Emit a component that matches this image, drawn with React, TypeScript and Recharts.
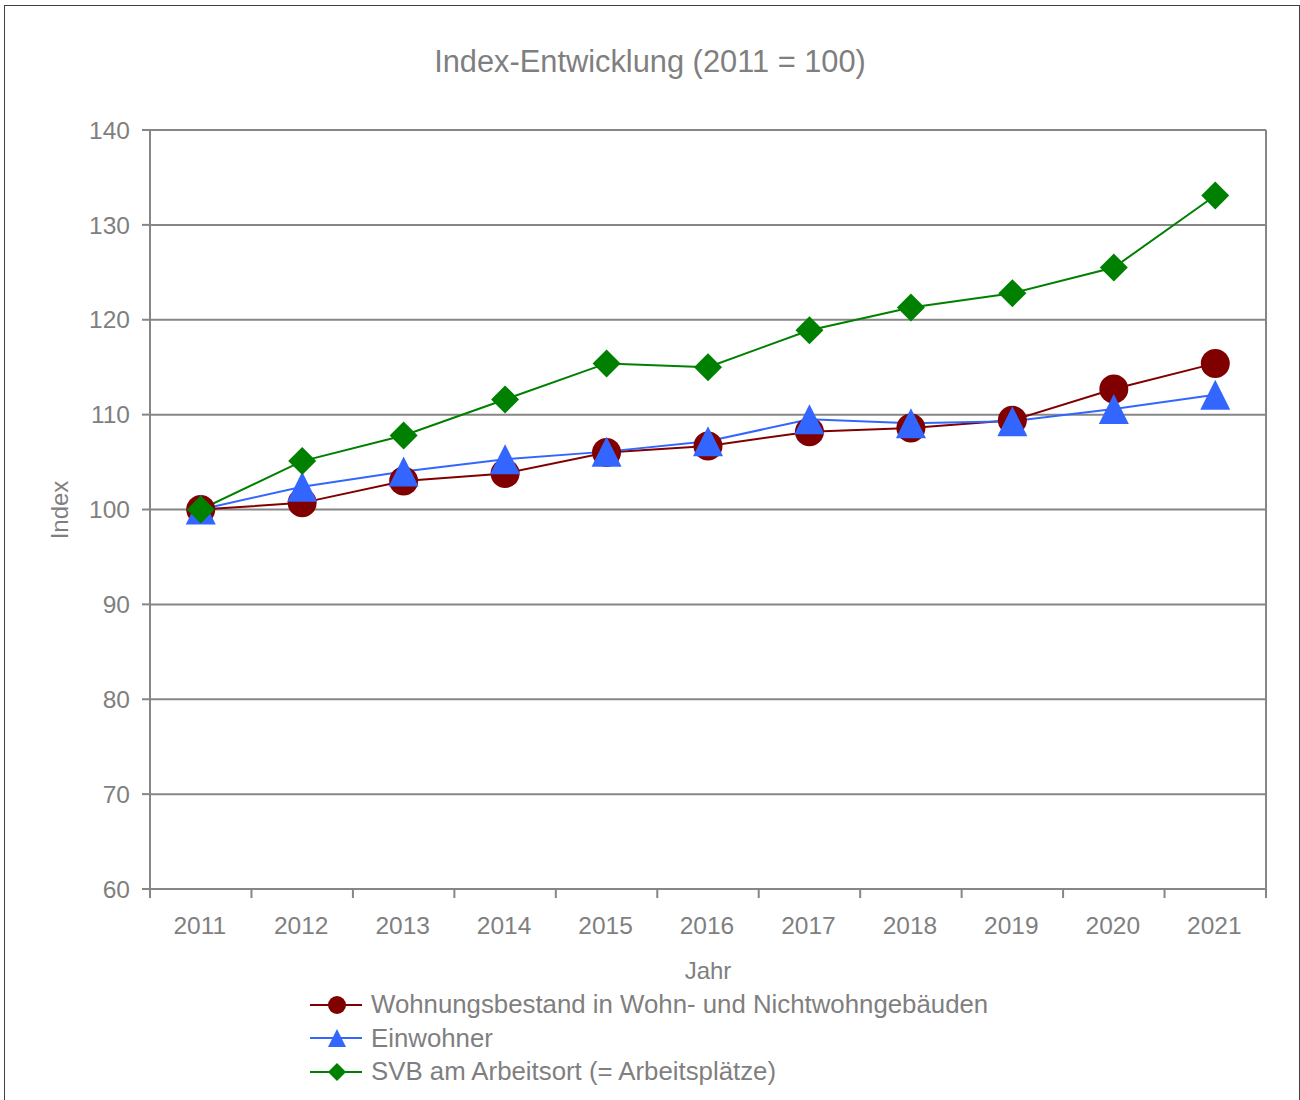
import React from "react";
import { LineChart, Line, XAxis, YAxis, CartesianGrid } from "recharts";

const years = [2011, 2012, 2013, 2014, 2015, 2016, 2017, 2018, 2019, 2020, 2021];
const wohnungsbestand = [100, 100.7, 103.0, 103.8, 106.0, 106.7, 108.2, 108.6, 109.4, 112.7, 115.4];
const einwohner = [100, 102.4, 104.0, 105.3, 106.1, 107.2, 109.5, 109.1, 109.3, 110.6, 112.1];
const svb = [100, 105.1, 107.8, 111.6, 115.4, 115.0, 118.9, 121.3, 122.8, 125.5, 133.1];
const yTicks = [60, 70, 80, 90, 100, 110, 120, 130, 140];

const seriesNames = [
  "Wohnungsbestand in Wohn- und Nichtwohngebäuden",
  "Einwohner",
  "SVB am Arbeitsort (= Arbeitsplätze)",
];

const data = years.map((year, i) => ({
  year,
  wohnung: wohnungsbestand[i],
  einwohner: einwohner[i],
  svb: svb[i],
}));

const W = 1300;
const H = 1100;
const PLOT_LEFT = 150;
const PLOT_RIGHT = 1266;
const PLOT_TOP = 130;
const PLOT_BOTTOM = 889;
const PLOT_W = PLOT_RIGHT - PLOT_LEFT;
const FONT = '"Liberation Sans", Arial, sans-serif';
const GREY = "#868686";
const TEXT = "#7f7f7f";
const RED = "#800000";
const BLUE = "#3366ff";
const GREEN = "#008000";

const Triangle = ({ cx, cy, size = 15 }: { cx?: number; cy?: number; size?: number }) => {
  if (cx == null || cy == null) return null;
  return (
    <polygon
      points={`${cx},${cy - size} ${cx + size},${cy + size} ${cx - size},${cy + size}`}
      fill={BLUE}
    />
  );
};

const Diamond = ({ cx, cy, size = 14 }: { cx?: number; cy?: number; size?: number }) => {
  if (cx == null || cy == null) return null;
  return (
    <polygon
      points={`${cx},${cy - size} ${cx + size},${cy} ${cx},${cy + size} ${cx - size},${cy}`}
      fill={GREEN}
    />
  );
};

const XTick = (props: any) => {
  const { x, payload, index } = props;
  const half = PLOT_W / (years.length * 2);
  return (
    <g>
      <line x1={x - half} x2={x - half} y1={PLOT_BOTTOM} y2={PLOT_BOTTOM + 9} stroke={GREY} strokeWidth={2} />
      {index === years.length - 1 && (
        <line x1={x + half} x2={x + half} y1={PLOT_BOTTOM} y2={PLOT_BOTTOM + 9} stroke={GREY} strokeWidth={2} />
      )}
      <text x={x - 1} y={PLOT_BOTTOM + 45} textAnchor="middle" fill={TEXT} fontSize={24.5} fontFamily={FONT}>
        {payload.value}
      </text>
    </g>
  );
};

const LegendRow = ({ color, marker, label }: { color: string; marker: React.ReactNode; label: string }) => (
  <div style={{ display: "flex", alignItems: "center", height: 33.5 }}>
    <svg width={62} height={30} style={{ flex: "none" }}>
      <line x1={4} x2={56} y1={15} y2={15} stroke={color} strokeWidth={2} />
      {marker}
    </svg>
    <span style={{ marginLeft: 3, fontSize: 25.8, color: TEXT, fontFamily: FONT, whiteSpace: "nowrap" }}>{label}</span>
  </div>
);

export default function App() {
  return (
    <div
      style={{
        position: "absolute",
        left: 0,
        top: 0,
        width: W,
        height: H,
        background: "#fff",
        fontFamily: FONT,
        overflow: "hidden",
      }}
    >
      <div
        style={{
          position: "absolute",
          left: 4,
          top: 5,
          width: 1296,
          height: H,
          border: "1px solid #404040",
          boxSizing: "border-box",
        }}
      />
      <div
        style={{
          position: "absolute",
          top: 44,
          left: 0,
          width: W,
          textAlign: "center",
          fontSize: 30.8,
          color: TEXT,
        }}
      >
        Index-Entwicklung (2011 = 100)
      </div>
      <LineChart
        width={W}
        height={H}
        data={data}
        margin={{ top: PLOT_TOP, right: 0, bottom: H - PLOT_BOTTOM - 60, left: 0 }}
      >
        <CartesianGrid vertical={false} stroke={GREY} strokeWidth={2} />
        <XAxis
          dataKey="year"
          type="number"
          domain={[2010.5, 2021.5]}
          ticks={years}
          interval={0}
          height={60}
          axisLine={{ stroke: GREY, strokeWidth: 2 }}
          tickLine={false}
          tick={<XTick />}
        />
        <YAxis
          domain={[60, 140]}
          ticks={yTicks}
          interval={0}
          width={PLOT_LEFT}
          tickSize={8}
          tickMargin={12}
          axisLine={{ stroke: GREY, strokeWidth: 2 }}
          tickLine={{ stroke: GREY, strokeWidth: 2 }}
          tick={{ fill: TEXT, fontSize: 24.5, fontFamily: FONT }}
        />
        <YAxis
          yAxisId="right"
          orientation="right"
          domain={[60, 140]}
          width={W - PLOT_RIGHT}
          tick={false}
          tickLine={false}
          axisLine={{ stroke: GREY, strokeWidth: 2 }}
        />
        <Line
          dataKey="wohnung"
          name={seriesNames[0]}
          stroke={RED}
          strokeWidth={2}
          dot={{ r: 14.5, fill: RED, stroke: "none" }}
          isAnimationActive={false}
        />
        <Line
          dataKey="einwohner"
          name={seriesNames[1]}
          stroke={BLUE}
          strokeWidth={2}
          dot={(p: any) => <Triangle key={`t${p.index}`} cx={p.cx} cy={p.cy} />}
          isAnimationActive={false}
        />
        <Line
          dataKey="svb"
          name={seriesNames[2]}
          stroke={GREEN}
          strokeWidth={2}
          dot={(p: any) => <Diamond key={`d${p.index}`} cx={p.cx} cy={p.cy} />}
          isAnimationActive={false}
        />
      </LineChart>
      <div
        style={{
          position: "absolute",
          left: 60,
          top: 510,
          transform: "translate(-50%, -50%) rotate(-90deg)",
          fontSize: 24,
          color: TEXT,
        }}
      >
        Index
      </div>
      <div
        style={{
          position: "absolute",
          left: 708,
          top: 971,
          transform: "translate(-50%, -50%)",
          fontSize: 24,
          color: TEXT,
        }}
      >
        Jahr
      </div>
      <div style={{ position: "absolute", left: 306, top: 988 }}>
        <LegendRow color={RED} label={seriesNames[0]} marker={<circle cx={31} cy={15} r={9} fill={RED} />} />
        <LegendRow color={BLUE} label={seriesNames[1]} marker={<Triangle cx={31} cy={15} size={9} />} />
        <LegendRow color={GREEN} label={seriesNames[2]} marker={<Diamond cx={31} cy={15} size={9} />} />
      </div>
    </div>
  );
}
